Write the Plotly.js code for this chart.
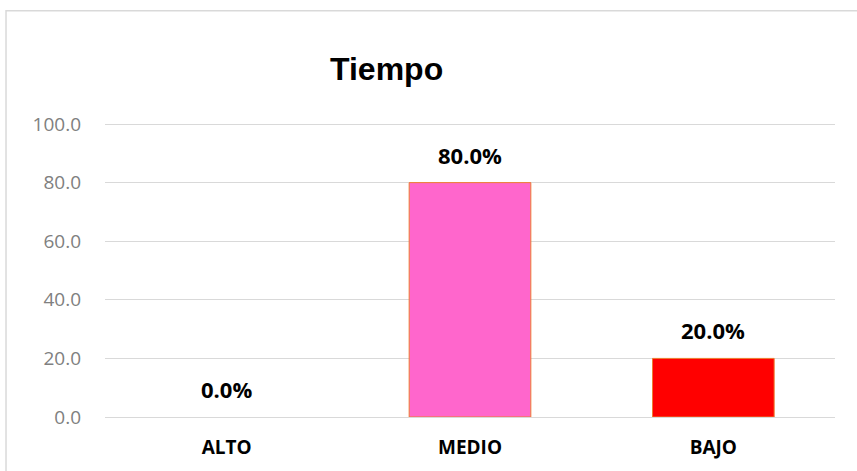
<!DOCTYPE html>
<html><head><meta charset="utf-8">
<script src="https://cdn.plot.ly/plotly-3.0.1.min.js"></script>
<style>html,body{margin:0;padding:0;background:#fff;}#chart{width:857px;height:471px;}</style>
</head><body><div id="chart"></div>
<script>
const categories = ["ALTO", "MEDIO", "BAJO"];
const values = [0.0, 80.0, 20.0];
const barColors = ["#FF66CC", "#FF66CC", "#FF0000"];
const tickVals = [0, 20, 40, 60, 80, 100];
const tickText = ["0.0", "20.0", "40.0", "60.0", "80.0", "100.0"];

const trace = {
  type: "bar",
  x: categories,
  y: values,
  width: 0.5,
  marker: {color: barColors, line: {color: "#ED7D31", width: values.map(v => v > 0 ? 1 : 0)}},
  hoverinfo: "none"
};

const annotations = categories.map((c, i) => ({
  x: c, y: values[i], xref: "x", yref: "y",
  text: values[i].toFixed(1) + "%",
  showarrow: false, yanchor: "middle", yshift: 28,
  font: {family: "Open Sans, Liberation Sans, sans-serif", size: 22, color: "#000", weight: "bold"}
}));
annotations.push({
  xref: "paper", yref: "paper", x: 0.386, y: 1.182,
  text: "<b>Tiempo</b>", showarrow: false, xanchor: "center", yanchor: "middle",
  font: {family: "Liberation Sans, Arial, sans-serif", size: 32, color: "#000"}
});

const layout = {
  width: 857, height: 471,
  margin: {l: 105, r: 22, t: 123, b: 54},
  paper_bgcolor: "#fff", plot_bgcolor: "#fff",
  showlegend: false,
  xaxis: {
    type: "category", showgrid: false, zeroline: false, showline: false,
    ticks: "", ticklabelstandoff: 17,
    tickfont: {family: "Open Sans, Liberation Sans, sans-serif", size: 19, color: "#000", weight: "bold"}
  },
  yaxis: {
    range: [0, 100.35], tickvals: tickVals, ticktext: tickText,
    showgrid: true, gridcolor: "#D9D9D9", gridwidth: 1,
    zeroline: true, zerolinecolor: "#D9D9D9", zerolinewidth: 1,
    showline: false, ticks: "", ticklabelstandoff: 23,
    tickfont: {family: "Open Sans, Liberation Sans, sans-serif", size: 19, color: "#808080"}
  },
  annotations: annotations,
  shapes: [{
    type: "rect", xref: "paper", yref: "paper",
    x0: -0.1356, x1: 1.2, y0: -0.5, y1: 1.382,
    line: {color: "#D9D9D9", width: 1.5}, fillcolor: "rgba(0,0,0,0)", layer: "below"
  }]
};

Plotly.newPlot("chart", [trace], layout, {displayModeBar: false, staticPlot: true});
</script></body></html>
